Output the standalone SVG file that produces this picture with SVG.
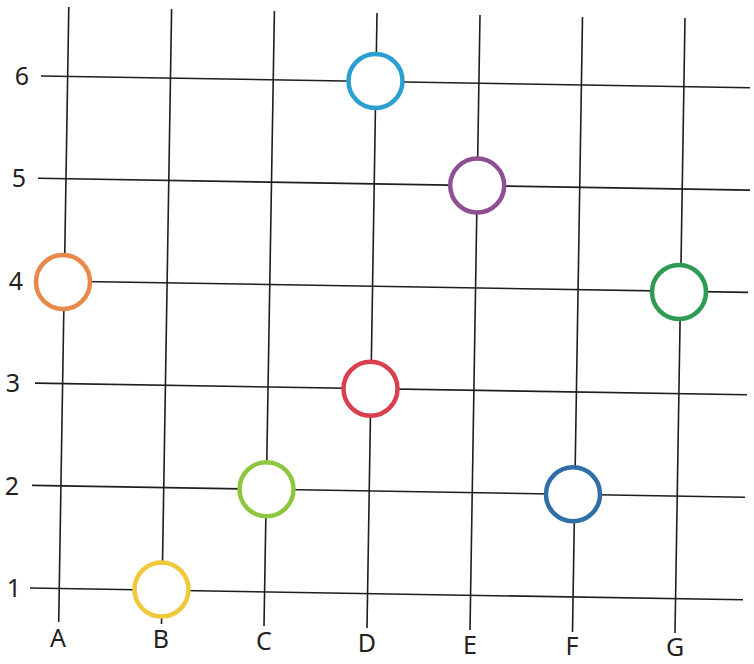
<svg xmlns="http://www.w3.org/2000/svg" width="754" height="664" viewBox="0 0 754 664">
<style>
.g{stroke:#1e1e1e;stroke-width:1.6;fill:none}
.c{fill:#fff;stroke-width:4.5}
.t{font-family:"Noto Sans","Open Sans",sans-serif;font-size:25px;fill:#222;text-anchor:middle}
</style>
<rect width="754" height="664" fill="#fff"/>
<g id="connectors">
<line class="g" x1="68.8" y1="7" x2="58.7" y2="622"/>
<line class="g" x1="171.6" y1="9" x2="161.5" y2="624"/>
<line class="g" x1="274.4" y1="11" x2="264" y2="626"/>
<line class="g" x1="377" y1="13" x2="367" y2="628"/>
<line class="g" x1="480" y1="15" x2="470" y2="630"/>
<line class="g" x1="582.5" y1="17" x2="572.5" y2="632"/>
<line class="g" x1="685" y1="18" x2="675" y2="633"/>
<line class="g" x1="41" y1="76" x2="750" y2="87.7"/>
<line class="g" x1="38" y1="178.3" x2="750" y2="190.1"/>
<line class="g" x1="36" y1="280.7" x2="748" y2="292.4"/>
<line class="g" x1="35" y1="383.1" x2="747" y2="394.8"/>
<line class="g" x1="32" y1="485.4" x2="745" y2="497.2"/>
<line class="g" x1="30" y1="588" x2="743" y2="599.8"/>
</g>
<g id="labels">
<text class="t" x="22" y="85">6</text>
<text class="t" x="19" y="187">5</text>
<text class="t" x="16" y="290">4</text>
<text class="t" x="13" y="392">3</text>
<text class="t" x="12" y="495">2</text>
<text class="t" x="14" y="597">1</text>
<text class="t" x="58" y="647">A</text>
<text class="t" x="161" y="648">B</text>
<text class="t" x="264" y="650">C</text>
<text class="t" x="367" y="652">D</text>
<text class="t" x="470" y="654">E</text>
<text class="t" x="572" y="655">F</text>
<text class="t" x="675" y="656">G</text>
</g>
<g id="circle-D6"><circle class="c" cx="375.5" cy="81" r="27" stroke="#2a9fd0"/></g>
<g id="circle-E5"><circle class="c" cx="477.2" cy="185.6" r="27" stroke="#8e4f93"/></g>
<g id="circle-A4"><circle class="c" cx="63" cy="282" r="27" stroke="#e8884a"/></g>
<g id="circle-G4"><circle class="c" cx="679" cy="292" r="27" stroke="#2e9a55"/></g>
<g id="circle-D3"><circle class="c" cx="370.5" cy="388.8" r="27" stroke="#d9404f"/></g>
<g id="circle-C2"><circle class="c" cx="266.5" cy="489.3" r="27" stroke="#8dc63f"/></g>
<g id="circle-F2"><circle class="c" cx="573" cy="494.3" r="27" stroke="#2f6ea6"/></g>
<g id="circle-B1"><circle class="c" cx="161.5" cy="589.5" r="27" stroke="#f0c93a"/></g>
</svg>
